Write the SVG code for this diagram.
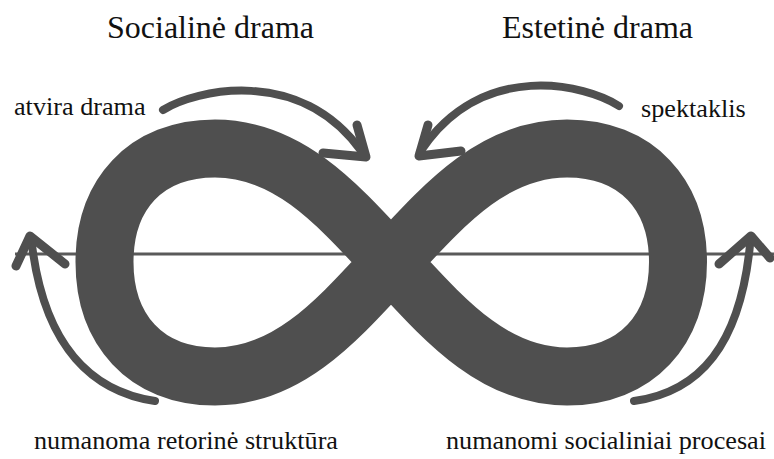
<svg xmlns="http://www.w3.org/2000/svg" width="774" height="459" viewBox="0 0 774 459">
  <style>
    text { font-family: 'Liberation Serif', 'DejaVu Serif', serif; fill: #111111; }
    .title { font-size: 32px; }
    .label { font-size: 26.2px; }
    .shaft { fill: none; stroke: #4f4f4f; stroke-width: 8; stroke-linecap: round; }
    .head { fill: none; stroke: #4f4f4f; stroke-width: 9; stroke-linecap: round; stroke-linejoin: round; }
  </style>
  <rect width="774" height="459" fill="#ffffff"/>

  <g id="axis">
    <line x1="15" y1="254" x2="774" y2="254" stroke="#5a5a5a" stroke-width="3"/>
  </g>

  <g id="infinity">
    <path d="M391,262 C340,207 290,148.5 215,148.5 C145,148.5 104.5,195 104.5,262 C104.5,329 145,376.5 215,376.5 C290,376.5 340,317 391,262 C442,207 492,148.5 567,148.5 C637,148.5 678,195 678,262 C678,329 637,376.5 567,376.5 C492,376.5 442,317 391,262 Z" fill="none" stroke="#4f4f4f" stroke-width="58" stroke-linejoin="round"/>
  </g>

  <g id="connectors">
    <g id="arrow-atvira">
      <path class="shaft" d="M163,110 C195,90 300,65 362,152"/>
      <path class="head" d="M357,125 L366,157 L323,153"/>
    </g>
    <g id="arrow-spektaklis">
      <path class="shaft" d="M619,106 C587,85 482,58 420,152"/>
      <path class="head" d="M428,125 L419,156 L461,151"/>
    </g>
    <g id="arrow-retorine">
      <path class="shaft" d="M155,401 C95,392 45,350 32,245"/>
      <path class="head" d="M16,266 L30,236 L65,264"/>
    </g>
    <g id="arrow-procesai">
      <path class="shaft" d="M634,401 C700,392 740,345 750,245"/>
      <path class="head" d="M719,264 L751,236 L770,258"/>
    </g>
  </g>

  <g id="title-social">
    <text class="title" x="210.5" y="38" text-anchor="middle">Socialinė drama</text>
  </g>
  <g id="title-estetine">
    <text class="title" x="597.5" y="38" text-anchor="middle">Estetinė drama</text>
  </g>
  <g id="label-atvira">
    <text class="label" x="14" y="115">atvira drama</text>
  </g>
  <g id="label-spektaklis">
    <text class="label" x="641" y="117">spektaklis</text>
  </g>
  <g id="label-retorine">
    <text class="label" x="34" y="449">numanoma retorinė struktūra</text>
  </g>
  <g id="label-procesai">
    <text class="label" x="446" y="449">numanomi socialiniai procesai</text>
  </g>
</svg>
